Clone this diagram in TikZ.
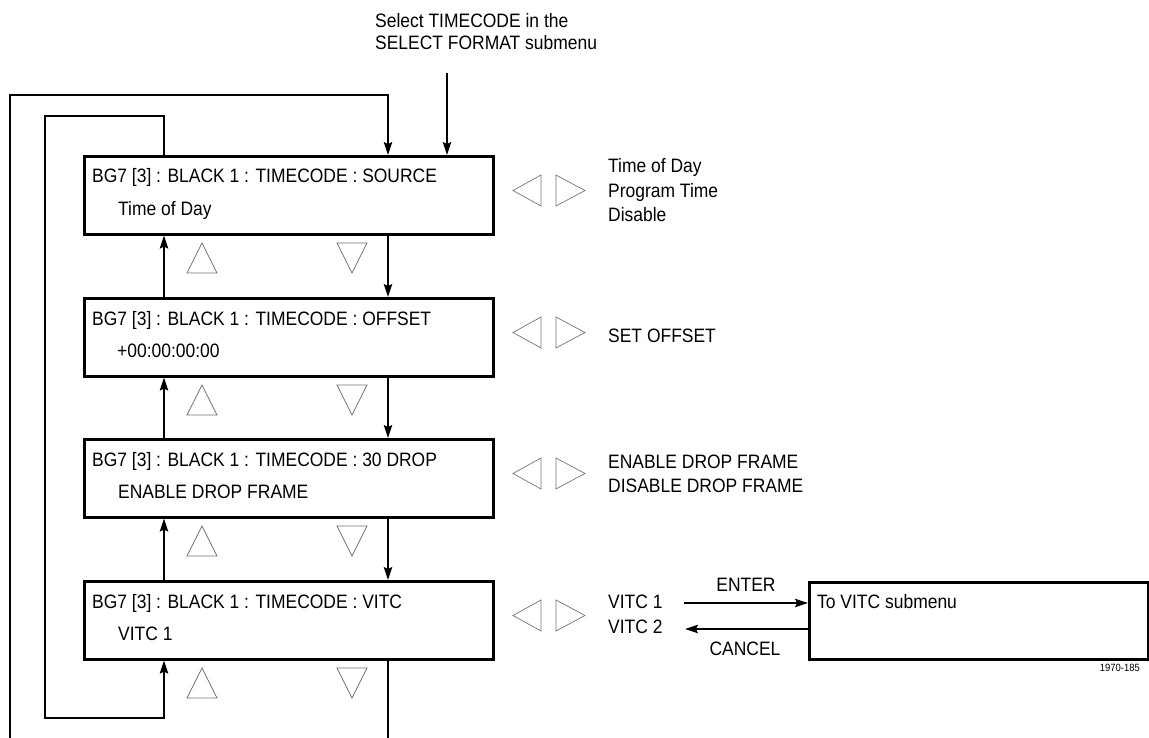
\documentclass[tikz,border=0pt]{standalone}
\usepackage{fontspec}
\setmainfont{Liberation Sans}[FakeStretch=0.9]
\usetikzlibrary{arrows.meta,calc}
\begin{document}
\begin{tikzpicture}[x=1pt,y=-1pt,
  menubox/.style={draw,line width=2.6pt,minimum width=409pt,minimum height=78pt,inner sep=0pt,anchor=north west},
  conn/.style={line width=1.2pt},
  arr/.style={conn,-{Stealth[length=13pt,width=8.5pt,inset=2pt]}},
  tri/.style={draw=black!55,line width=0.7pt,line join=miter},
  txt/.style={anchor=base west,inner sep=0pt,font=\fontsize{19.4}{23}\selectfont},
  small/.style={anchor=base east,inner sep=0pt,font=\fontsize{10.5}{12}\selectfont},
]
\useasboundingbox (0,0) rectangle (1149,738);

% menu boxes
\node[menubox] (b1) at (83,155) {};
\node[menubox] (b2) at (83,297) {};
\node[menubox] (b3) at (83,438) {};
\node[menubox] (b4) at (83,580) {};
\node[menubox,minimum width=339pt,minimum height=77pt] (vb) at (808,581) {};

% box texts
\node[txt] (t1a) at (92,183) {BG7 [3] : BLACK 1 : TIMECODE : SOURCE};
\node[txt] (t1b) at (118,215.5) {Time of Day};
\node[txt] (t2a) at (92,325) {BG7 [3] : BLACK 1 : TIMECODE : OFFSET};
\node[txt] (t2b) at (117,357.5) {+00:00:00:00};
\node[txt] (t3a) at (92,466) {BG7 [3] : BLACK 1 : TIMECODE : 30 DROP};
\node[txt] (t3b) at (118,498.5) {ENABLE DROP FRAME};
\node[txt] (t4a) at (92,608) {BG7 [3] : BLACK 1 : TIMECODE : VITC};
\node[txt] (t4b) at (118,640.5) {VITC 1};
\node[txt] (vbt) at (817,608) {To VITC submenu};

% option lists
\node[txt] (o1a) at (608,173) {Time of Day};
\node[txt] (o1b) at (608,197.5) {Program Time};
\node[txt] (o1c) at (608,222) {Disable};
\node[txt] (o2a) at (608,342) {SET OFFSET};
\node[txt] (o3a) at (608,468.5) {ENABLE DROP FRAME};
\node[txt] (o3b) at (608,492.5) {DISABLE DROP FRAME};
\node[txt] (o4a) at (608,608) {VITC 1};
\node[txt] (o4b) at (608,633) {VITC 2};

% top note
\node[txt] (s1) at (375,28) {Select TIMECODE in the};
\node[txt] (s2) at (375,50) {SELECT FORMAT submenu};

% enter/cancel labels
\node[txt,anchor=base] (ent) at (746,591.5) {ENTER};
\node[txt,anchor=base] (can) at (745,655) {CANCEL};
\node[small] (fig) at (1140,671) {1970-185};

% navigation triangles
\foreach \T in {155,297,438,580}{
  \pgfmathsetmacro{\B}{\T+78}
  \draw[tri] (187,\B+40) -- (202,\B+10) -- (217,\B+40) -- cycle;
  \draw[tri] (337,\B+10) -- (352,\B+40) -- (367,\B+10) -- cycle;
  \draw[tri] (541,\T+20) -- (513,\T+35.5) -- (541,\T+51) -- cycle;
  \draw[tri] (556,\T+20) -- (585,\T+35.5) -- (556,\T+51) -- cycle;
}

% connectors
\coordinate (ux) at (164,0);
\coordinate (dx) at (388,0);
\draw[arr] (b2.north -| ux) -- (b1.south -| ux);
\draw[arr] (b3.north -| ux) -- (b2.south -| ux);
\draw[arr] (b4.north -| ux) -- (b3.south -| ux);
\draw[arr] (b1.south -| dx) -- (b2.north -| dx);
\draw[arr] (b2.south -| dx) -- (b3.north -| dx);
\draw[arr] (b3.south -| dx) -- (b4.north -| dx);
\coordinate (dend) at (388,738);
\draw[conn] (b4.south -| dx) -- (dend);

% outer loop
\coordinate (oend) at (10,738);
\draw[arr] (oend) -- (10,95) -- (388,95) -- (b1.north -| dx);
% inner loop
\draw[arr] (b1.north -| ux) -- (164,116) -- (45,116) -- (45,718) -- (164,718) -- (b4.south -| ux);

% entry from SELECT FORMAT
\coordinate (s0) at (447,73);
\draw[arr] (s0) -- (s0 |- b1.north);

% ENTER / CANCEL
\coordinate (e1) at (684,603);
\coordinate (c1) at (685,629);
\draw[arr] (e1) -- (e1 -| vb.west);
\draw[arr] (c1 -| vb.west) -- (c1);
\end{tikzpicture}
\end{document}
